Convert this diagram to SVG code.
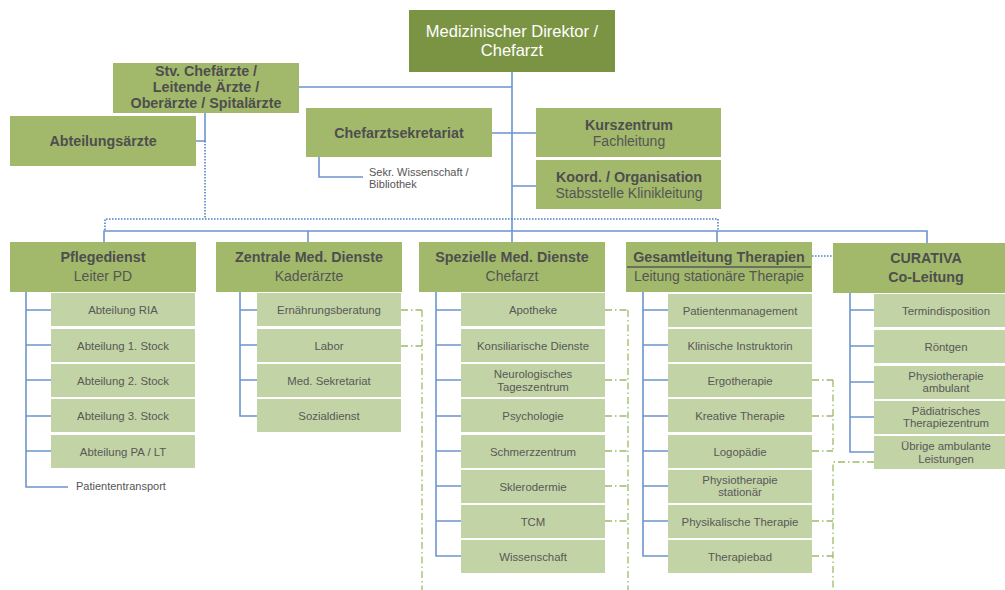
<svg xmlns="http://www.w3.org/2000/svg" width="1005" height="590" viewBox="0 0 1005 590">
<style>
.top{fill:#7b9444}
.h{fill:#a2b96b}
.s{fill:#c2d3a5}
.c{fill:none;stroke:#6d94cc;stroke-width:1.6}
.d{fill:none;stroke:#4f82c4;stroke-width:1.6;stroke-dasharray:1.6 1.4}
.g{fill:none;stroke:#9cba68;stroke-width:1.3;stroke-dasharray:7 3 1.5 3}
text{font-family:"Liberation Sans",Arial,sans-serif;text-anchor:middle}
.tt{font-size:16.5px;fill:#ffffff}
.hb{font-size:14.3px;font-weight:bold;fill:#4e4e4e}
.hr{font-size:14px;fill:#555555}
.st{font-size:11.4px;fill:#585858}
.sm{font-size:11px;fill:#555555;text-anchor:start}
</style>
<rect width="1005" height="590" fill="#ffffff"/>
<g id="connectors">
<path class="c" d="M512,72V243M299,87H512M492,133H536M512,186H536M205,113V141H196M319,157V177H363"/>
<path class="c" d="M104,243V231H927V243M308,231V242M717,231V242"/>
<path class="c" d="M26,292V487H68M26,310H51M26,345H51M26,380H51M26,416H51M26,451H51"/>
<path class="c" d="M240,292V416H257M240,310H257M240,345H257M240,380H257"/>
<path class="c" d="M436,292V556H461M436,310H461M436,345H461M436,380H461M436,416H461M436,451H461M436,486H461M436,521H461"/>
<path class="c" d="M643,292V556H668M643,310H668M643,345H668M643,380H668M643,416H668M643,451H668M643,486H668M643,521H668"/>
<path class="c" d="M850,293V452H874M850,310H874M850,346H874M850,382H874M850,417H874"/>
<path class="d" d="M205,141V219M105,230V219H718V230M812,256H833"/>
<path class="g" d="M401,310H422M401,346H422M422,310V590"/>
<path class="g" d="M605,310H628M605,380H628M605,416H628M605,451H628M605,486H628M605,521H628M628,310V590"/>
<path class="g" d="M812,380H833M812,416H833M812,451H833M812,521H833M812,556H833M833,380V452M874,462H833V590"/>
</g>
<g id="direktor"><rect class="top" x="409" y="10" width="206" height="62"/><text class="tt" x="512" y="37">Medizinischer Direktor /</text><text class="tt" x="512" y="56">Chefarzt</text></g>
<g id="stv"><rect class="h" x="113" y="63" width="186" height="50"/><text class="hb" x="206" y="76">Stv. Chefärzte /</text><text class="hb" x="206" y="92">Leitende Ärzte /</text><text class="hb" x="206" y="108">Oberärzte / Spitalärzte</text></g>
<g id="abteilungsaerzte"><rect class="h" x="10" y="116" width="186" height="50"/><text class="hb" x="103" y="146">Abteilungsärzte</text></g>
<g id="sekretariat"><rect class="h" x="306" y="108" width="186" height="49"/><text class="hb" x="399" y="138">Chefarztsekretariat</text></g>
<g id="sekr-wiss"><text class="sm" x="369" y="176">Sekr. Wissenschaft /</text><text class="sm" x="369" y="188">Bibliothek</text></g>
<g id="kurszentrum"><rect class="h" x="536" y="108" width="185" height="49"/><text class="hb" x="629" y="130">Kurszentrum</text><text class="hr" x="629" y="146">Fachleitung</text></g>
<g id="koord"><rect class="h" x="536" y="160" width="185" height="49"/><text class="hb" x="629" y="182">Koord. / Organisation</text><text class="hr" x="629" y="198">Stabsstelle Klinikleitung</text></g>
<g id="pflegedienst"><rect class="h" x="10" y="242" width="186" height="50"/><text class="hb" x="103" y="262">Pflegedienst</text><text class="hr" x="103" y="281">Leiter PD</text></g>
<g id="zentrale"><rect class="h" x="216" y="242" width="186" height="50"/><text class="hb" x="309" y="262">Zentrale Med. Dienste</text><text class="hr" x="309" y="281">Kaderärzte</text></g>
<g id="spezielle"><rect class="h" x="419" y="242" width="186" height="50"/><text class="hb" x="512" y="262">Spezielle Med. Dienste</text><text class="hr" x="512" y="281">Chefarzt</text></g>
<g id="gesamtleitung"><rect class="h" x="626" y="242" width="186" height="50"/><text class="hb" x="719" y="262">Gesamtleitung Therapien</text><path d="M627,267H811" stroke="#5a5a5a" stroke-width="1.4"/><text class="hr" x="719" y="281">Leitung stationäre Therapie</text></g>
<g id="curativa"><rect class="h" x="833" y="243" width="186" height="50"/><text class="hb" x="926" y="263">CURATIVA</text><text class="hb" x="926" y="282">Co-Leitung</text></g>
<g id="pd-subs">
<rect class="s" x="51" y="293" width="144" height="33"/><text class="st" x="123" y="313.5">Abteilung RIA</text>
<rect class="s" x="51" y="329" width="144" height="33"/><text class="st" x="123" y="349.5">Abteilung 1. Stock</text>
<rect class="s" x="51" y="364" width="144" height="33"/><text class="st" x="123" y="384.5">Abteilung 2. Stock</text>
<rect class="s" x="51" y="399" width="144" height="33"/><text class="st" x="123" y="419.5">Abteilung 3. Stock</text>
<rect class="s" x="51" y="435" width="144" height="33"/><text class="st" x="123" y="455.5">Abteilung PA / LT</text>
<text class="sm" x="76" y="490">Patiententransport</text>
</g>
<g id="zmd-subs">
<rect class="s" x="257" y="293" width="144" height="33"/><text class="st" x="329" y="313.5">Ernährungsberatung</text>
<rect class="s" x="257" y="329" width="144" height="33"/><text class="st" x="329" y="349.5">Labor</text>
<rect class="s" x="257" y="364" width="144" height="33"/><text class="st" x="329" y="384.5">Med. Sekretariat</text>
<rect class="s" x="257" y="399" width="144" height="33"/><text class="st" x="329" y="419.5">Sozialdienst</text>
</g>
<g id="smd-subs">
<rect class="s" x="461" y="293" width="144" height="33"/><text class="st" x="533" y="313.5">Apotheke</text>
<rect class="s" x="461" y="329" width="144" height="33"/><text class="st" x="533" y="349.5">Konsiliarische Dienste</text>
<rect class="s" x="461" y="364" width="144" height="33"/><text class="st" x="533" y="378">Neurologisches</text><text class="st" x="533" y="391">Tageszentrum</text>
<rect class="s" x="461" y="399" width="144" height="33"/><text class="st" x="533" y="419.5">Psychologie</text>
<rect class="s" x="461" y="435" width="144" height="33"/><text class="st" x="533" y="455.5">Schmerzzentrum</text>
<rect class="s" x="461" y="470" width="144" height="33"/><text class="st" x="533" y="490.5">Sklerodermie</text>
<rect class="s" x="461" y="505" width="144" height="33"/><text class="st" x="533" y="525.5">TCM</text>
<rect class="s" x="461" y="540" width="144" height="33"/><text class="st" x="533" y="560.5">Wissenschaft</text>
</g>
<g id="gt-subs">
<rect class="s" x="668" y="294" width="144" height="33"/><text class="st" x="740" y="314.5">Patientenmanagement</text>
<rect class="s" x="668" y="329" width="144" height="33"/><text class="st" x="740" y="349.5">Klinische Instruktorin</text>
<rect class="s" x="668" y="364" width="144" height="33"/><text class="st" x="740" y="384.5">Ergotherapie</text>
<rect class="s" x="668" y="399" width="144" height="33"/><text class="st" x="740" y="419.5">Kreative Therapie</text>
<rect class="s" x="668" y="435" width="144" height="33"/><text class="st" x="740" y="455.5">Logopädie</text>
<rect class="s" x="668" y="470" width="144" height="33"/><text class="st" x="740" y="484">Physiotherapie</text><text class="st" x="740" y="496">stationär</text>
<rect class="s" x="668" y="505" width="144" height="33"/><text class="st" x="740" y="525.5">Physikalische Therapie</text>
<rect class="s" x="668" y="540" width="144" height="33"/><text class="st" x="740" y="560.5">Therapiebad</text>
</g>
<g id="cur-subs">
<rect class="s" x="874" y="294" width="144" height="33"/><text class="st" x="946" y="314.5">Termindisposition</text>
<rect class="s" x="874" y="330" width="144" height="33"/><text class="st" x="946" y="350.5">Röntgen</text>
<rect class="s" x="874" y="366" width="144" height="33"/><text class="st" x="946" y="380">Physiotherapie</text><text class="st" x="946" y="392">ambulant</text>
<rect class="s" x="874" y="401" width="144" height="33"/><text class="st" x="946" y="415">Pädiatrisches</text><text class="st" x="946" y="427">Therapiezentrum</text>
<rect class="s" x="874" y="436" width="144" height="33"/><text class="st" x="946" y="450">Übrige ambulante</text><text class="st" x="946" y="463">Leistungen</text>
</g>
</svg>
